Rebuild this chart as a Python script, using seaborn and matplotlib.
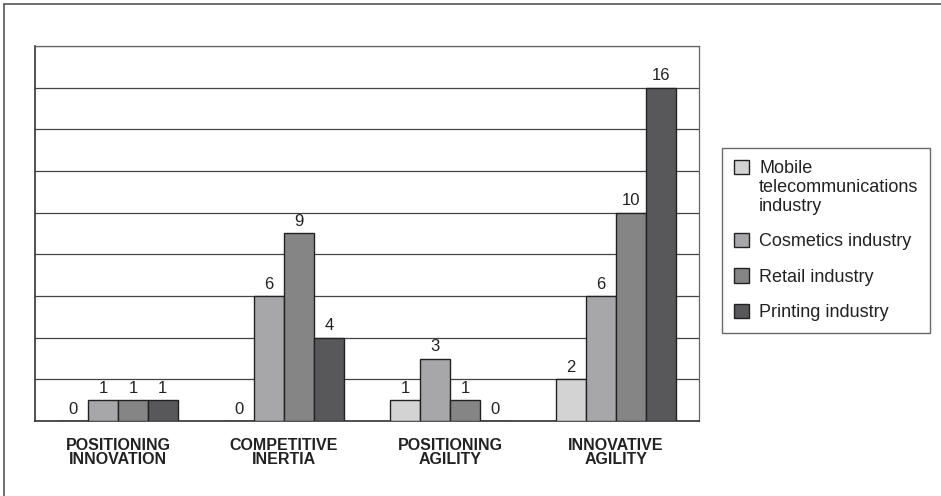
import numpy as np
import pandas as pd
import matplotlib.pyplot as plt
from matplotlib.lines import Line2D
from matplotlib.patches import Rectangle
from matplotlib.legend_handler import HandlerPatch
import seaborn as sns

# data
categories = ['POSITIONING\nINNOVATION', 'COMPETITIVE\nINERTIA',
              'POSITIONING\nAGILITY', 'INNOVATIVE\nAGILITY']
industries = ['Mobile\ntelecommunications\nindustry', 'Cosmetics industry',
              'Retail industry', 'Printing industry']
mobile = [0, 0, 1, 2]
cosmetics = [1, 6, 3, 6]
retail = [1, 9, 1, 10]
printing = [1, 4, 0, 16]
colors = ['#d3d3d4', '#a7a7a9', '#858586', '#58585a']

rows = []
for name, vals in zip(industries, [mobile, cosmetics, retail, printing]):
    for cat, v in zip(categories, vals):
        rows.append({'category': cat, 'industry': name, 'value': v})
df = pd.DataFrame(rows)

sns.set_style('white')
plt.rcParams['font.family'] = ['Liberation Sans', 'DejaVu Sans']

fig = plt.figure(figsize=(9.41, 4.96), dpi=100)
ax = fig.add_axes([35/941, 75/496, 664/941, 375/496])

sns.barplot(data=df, x='category', y='value', hue='industry', palette=colors,
            width=0.72, edgecolor='#222222', linewidth=1.0, ax=ax, zorder=3)

for cont in ax.containers:
    ax.bar_label(cont, padding=3, fontsize=12, color='#222222')

# axis look
ax.set_ylim(0, 18)
ax.set_xlim(-0.5, 3.5)
ax.set_yticks(np.arange(0, 19, 2))
ax.set_yticklabels([])
ax.tick_params(axis='y', length=0)
ax.yaxis.grid(True, color='#444444', linewidth=0.9, zorder=0)
ax.set_axisbelow(True)
ax.set_xlabel('')
ax.set_ylabel('')
ax.set_xticks(range(4))
ax.set_xticklabels(categories, fontsize=11.5, fontweight='bold',
                   color='#222222', linespacing=0.95)
ax.tick_params(axis='x', which='major', length=0, pad=12)
ax.set_xticks([-0.5, 0.5, 1.5, 2.5, 3.5], minor=True)
ax.tick_params(axis='x', which='minor', length=5, width=0.9,
               color='#555555', direction='out')
for side in ['left', 'bottom']:
    ax.spines[side].set_color('#333333')
    ax.spines[side].set_linewidth(1.2)
for side in ['top', 'right']:
    ax.spines[side].set_color('#666666')
    ax.spines[side].set_linewidth(0.9)

legend_size = 13


# the multi-line entry has its box next to the first line
def top_patch(legend, orig_handle, xdescent, ydescent, width, height, fontsize):
    return Rectangle((-xdescent, -ydescent + fontsize * 1.13), width, height)


handles, labels = ax.get_legend_handles_labels()
ax.legend_.remove()
leg = fig.legend(handles, labels, loc='upper left',
                 bbox_to_anchor=(722/941, 348/496), fontsize=legend_size,
                 frameon=True, fancybox=False, edgecolor='#444444',
                 handlelength=0.85, handleheight=0.85, handletextpad=0.55,
                 labelspacing=1.0, borderpad=0.65, borderaxespad=0,
                 handler_map={handles[0]: HandlerPatch(patch_func=top_patch)})
leg.get_frame().set_linewidth(1.0)
for t in leg.get_texts():
    t.set_color('#222222')
    t.set_linespacing(1.15)

# outer border (only top and left edges show)
fig.add_artist(Line2D([4/941, 1.0], [492/496, 492/496], color='#555555',
                      linewidth=1.2, transform=fig.transFigure))
fig.add_artist(Line2D([4/941, 4/941], [0, 492/496], color='#555555',
                      linewidth=1.2, transform=fig.transFigure))

fig.savefig('out.png', dpi=100)
